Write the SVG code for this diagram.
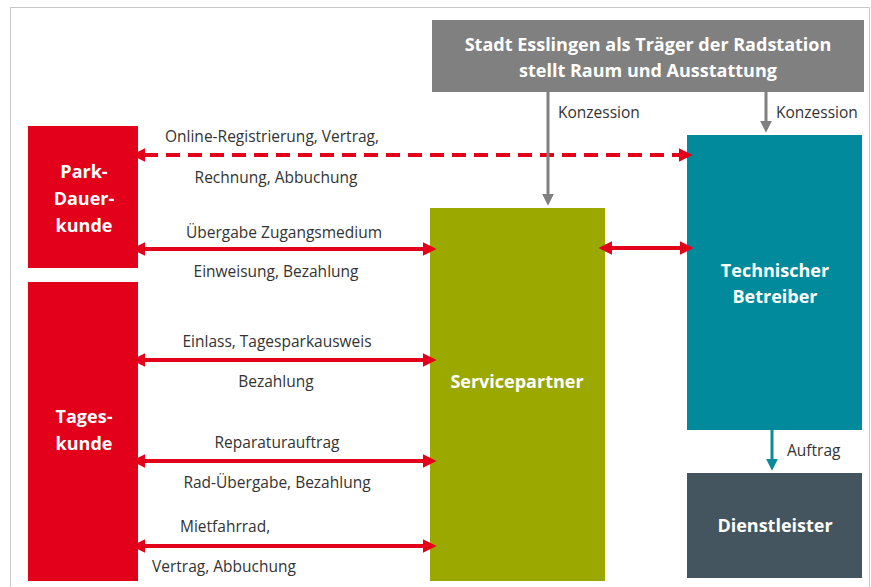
<svg xmlns="http://www.w3.org/2000/svg" width="871" height="587" viewBox="0 0 871 587">
<style>
.lbl{font-family:"Open Sans","Noto Sans",sans-serif;font-size:15.5px;fill:#333;}
.ttl{font-family:"Open Sans","Noto Sans",sans-serif;font-size:18px;font-weight:bold;fill:#fff;text-anchor:middle;}
.red{stroke:#e2001a;stroke-width:4;fill:none;}
</style>
<defs>
<marker id="rs" viewBox="0 0 10 10" refX="1" refY="5" markerWidth="3.5" markerHeight="3.5" orient="auto-start-reverse" markerUnits="strokeWidth"><path d="M0,0 L10,5 L0,10 Z" fill="#e2001a"/></marker>
<marker id="gs" viewBox="0 0 10 10" refX="1" refY="5" markerWidth="4" markerHeight="4" orient="auto" markerUnits="strokeWidth"><path d="M0,0 L10,5 L0,10 Z" fill="#808080"/></marker>
<marker id="ts" viewBox="0 0 10 10" refX="1" refY="5" markerWidth="4" markerHeight="4" orient="auto" markerUnits="strokeWidth"><path d="M0,0 L10,5 L0,10 Z" fill="#0a8a9a"/></marker>
</defs>
<rect x="0" y="0" width="871" height="587" fill="#fff"/>
<path d="M10.5,600 V7.5 H869.5 V600" fill="none" stroke="#c8c8c8" stroke-width="1"/>

<g id="stadt"><rect x="432" y="20" width="432" height="72" fill="#808080"/>
<text class="ttl" x="648" y="51">Stadt Esslingen als Träger der Radstation</text>
<text class="ttl" x="648" y="77">stellt Raum und Ausstattung</text></g>

<g id="parkdauerkunde"><rect x="28" y="126" width="110" height="142" fill="#e2001a"/>
<text class="ttl" x="84" y="178">Park-</text>
<text class="ttl" x="84" y="205">Dauer-</text>
<text class="ttl" x="84" y="232">kunde</text></g>

<g id="tageskunde"><rect x="28" y="282" width="110" height="299" fill="#e2001a"/>
<text class="ttl" x="84" y="423">Tages-</text>
<text class="ttl" x="84" y="450">kunde</text></g>

<g id="servicepartner"><rect x="430" y="208" width="175" height="373" fill="#9aa800"/>
<text class="ttl" x="517" y="388">Servicepartner</text></g>

<g id="technischer"><rect x="687" y="135" width="175" height="295" fill="#008a9b"/>
<text class="ttl" x="775" y="277">Technischer</text>
<text class="ttl" x="775" y="303">Betreiber</text></g>

<g id="dienstleister"><rect x="687" y="473" width="175" height="105" fill="#44555f"/>
<text class="ttl" x="775" y="532">Dienstleister</text></g>

<g id="connectors">
<line class="red" x1="144" y1="155" x2="680" y2="155" stroke-dasharray="14,8" marker-start="url(#rs)" marker-end="url(#rs)"/>
<line class="red" x1="144" y1="249" x2="424" y2="249" marker-start="url(#rs)" marker-end="url(#rs)"/>
<line class="red" x1="611" y1="248" x2="681" y2="248" marker-start="url(#rs)" marker-end="url(#rs)"/>
<line class="red" x1="144" y1="360" x2="424" y2="360" marker-start="url(#rs)" marker-end="url(#rs)"/>
<line class="red" x1="144" y1="461" x2="424" y2="461" marker-start="url(#rs)" marker-end="url(#rs)"/>
<line class="red" x1="144" y1="546" x2="424" y2="546" marker-start="url(#rs)" marker-end="url(#rs)"/>
<line x1="548" y1="92" x2="548" y2="195" stroke="#808080" stroke-width="3" marker-end="url(#gs)"/>
<line x1="766" y1="92" x2="766" y2="122" stroke="#808080" stroke-width="3" marker-end="url(#gs)"/>
<line x1="772" y1="430" x2="772" y2="460" stroke="#0a8a9a" stroke-width="3" marker-end="url(#ts)"/>
</g>

<g id="labels">
<text class="lbl" x="558" y="118">Konzession</text>
<text class="lbl" x="776" y="118">Konzession</text>
<text class="lbl" x="272" y="142" text-anchor="middle">Online-Registrierung, Vertrag,</text>
<text class="lbl" x="276" y="183" text-anchor="middle">Rechnung, Abbuchung</text>
<text class="lbl" x="284" y="238" text-anchor="middle">Übergabe Zugangsmedium</text>
<text class="lbl" x="276" y="277" text-anchor="middle">Einweisung, Bezahlung</text>
<text class="lbl" x="277" y="347" text-anchor="middle">Einlass, Tagesparkausweis</text>
<text class="lbl" x="276" y="387" text-anchor="middle">Bezahlung</text>
<text class="lbl" x="277" y="448" text-anchor="middle">Reparaturauftrag</text>
<text class="lbl" x="277" y="488" text-anchor="middle">Rad-Übergabe, Bezahlung</text>
<text class="lbl" x="180" y="532">Mietfahrrad,</text>
<text class="lbl" x="152" y="572">Vertrag, Abbuchung</text>
<text class="lbl" x="787" y="456">Auftrag</text>
</g>
</svg>
